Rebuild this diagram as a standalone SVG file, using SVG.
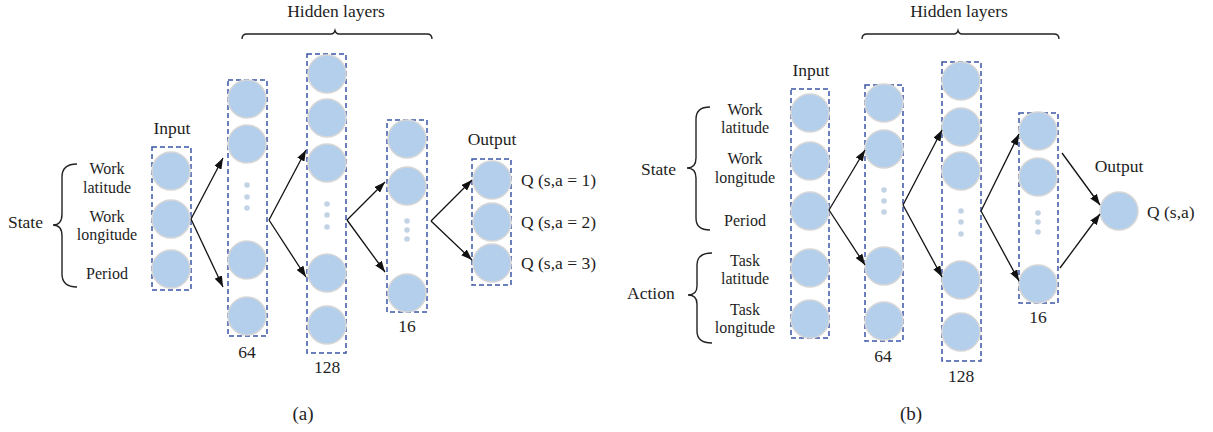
<svg xmlns="http://www.w3.org/2000/svg" width="1213" height="432" viewBox="0 0 1213 432">
  <style>
    .bg { fill: #ffffff; }
    .box { fill: none; stroke: #3a55a6; stroke-width: 1.5; stroke-dasharray: 5 3; }
    .neuron { fill: #b4cfec; stroke: #d6d6d6; stroke-width: 1.5; }
    .dot { fill: #c3d3e6; }
    .edge { fill: none; stroke: #111111; stroke-width: 1.3; marker-end: url(#arrow); }
    .brace { fill: none; stroke: #222222; stroke-width: 1.4; }
    text { font-family: "Liberation Serif", "Times New Roman", serif; fill: #1e1e1e; }
    .lbl { font-size: 16px; text-anchor: middle; }
    .big { font-size: 17.5px; }
    .cap { font-size: 19px; text-anchor: middle; }
    .mid { text-anchor: middle; }
  </style>
  <defs>
    <marker id="arrow" markerUnits="userSpaceOnUse" markerWidth="11" markerHeight="8" refX="11" refY="4" orient="auto">
      <path d="M0,0 L11,4 L0,8 z" fill="#111111"/>
    </marker>
  </defs>
  <rect class="bg" x="0" y="0" width="1213" height="432"/>

  <!-- ===== Panel (a) ===== -->
  <g id="a-hidden-brace">
    <path class="brace" d="M242,39 Q242,34 247,34 L331,34 Q334,34 335,30.5 Q336,34 339,34 L427,34 Q432,34 432,39"/>
    <text class="big mid" x="336" y="17">Hidden layers</text>
  </g>
  <g id="a-state">
    <path class="brace" d="M77,164 Q62,164 62,177 L62,214 Q62,225 53,225 Q62,225 62,236 L62,274 Q62,287 77,287"/>
    <text class="big" x="8" y="228">State</text>
    <text class="lbl" x="107" y="174">Work</text>
    <text class="lbl" x="107" y="193">latitude</text>
    <text class="lbl" x="107" y="222">Work</text>
    <text class="lbl" x="107" y="240">longitude</text>
    <text class="lbl" x="107" y="279">Period</text>
  </g>
  <g id="a-input">
    <text class="big mid" x="172" y="134">Input</text>
    <rect class="box" x="152" y="147" width="39" height="143"/>
    <circle class="neuron" cx="171" cy="171" r="19"/>
    <circle class="neuron" cx="171" cy="219" r="19"/>
    <circle class="neuron" cx="171" cy="269" r="19"/>
  </g>
  <g id="a-hidden-64">
    <rect class="box" x="228" y="80" width="39" height="256"/>
    <circle class="neuron" cx="247" cy="99" r="19"/>
    <circle class="neuron" cx="247" cy="144" r="19"/>
    <circle class="dot" cx="247" cy="185" r="2.8"/>
    <circle class="dot" cx="247" cy="197" r="2.8"/>
    <circle class="dot" cx="247" cy="208" r="2.8"/>
    <circle class="neuron" cx="247" cy="260" r="19"/>
    <circle class="neuron" cx="247" cy="316" r="19"/>
    <text class="big mid" x="247" y="358">64</text>
  </g>
  <g id="a-hidden-128">
    <rect class="box" x="307" y="54" width="39" height="299"/>
    <circle class="neuron" cx="327" cy="74" r="19"/>
    <circle class="neuron" cx="327" cy="118" r="19"/>
    <circle class="neuron" cx="327" cy="163" r="19"/>
    <circle class="dot" cx="327" cy="204" r="2.8"/>
    <circle class="dot" cx="327" cy="215" r="2.8"/>
    <circle class="dot" cx="327" cy="227" r="2.8"/>
    <circle class="neuron" cx="327" cy="273" r="19"/>
    <circle class="neuron" cx="327" cy="325" r="19"/>
    <text class="big mid" x="327" y="373">128</text>
  </g>
  <g id="a-hidden-16">
    <rect class="box" x="387" y="120" width="40" height="192"/>
    <circle class="neuron" cx="407" cy="139" r="19"/>
    <circle class="neuron" cx="407" cy="186" r="19"/>
    <circle class="dot" cx="407" cy="221" r="2.8"/>
    <circle class="dot" cx="407" cy="230" r="2.8"/>
    <circle class="dot" cx="407" cy="239" r="2.8"/>
    <circle class="neuron" cx="407" cy="293" r="19"/>
    <text class="big mid" x="407" y="332">16</text>
  </g>
  <g id="a-output">
    <text class="big mid" x="492" y="145">Output</text>
    <rect class="box" x="472" y="159" width="39" height="126"/>
    <circle class="neuron" cx="492" cy="180" r="19"/>
    <circle class="neuron" cx="492" cy="222" r="19"/>
    <circle class="neuron" cx="492" cy="263" r="19"/>
    <text class="big" x="521" y="186">Q (s,a = 1)</text>
    <text class="big" x="521" y="228">Q (s,a = 2)</text>
    <text class="big" x="521" y="269">Q (s,a = 3)</text>
  </g>
  <g id="a-connectors">
    <path class="edge" d="M191,219 L223,158"/>
    <path class="edge" d="M191,219 L223,287"/>
    <path class="edge" d="M269,220 L306,150"/>
    <path class="edge" d="M269,220 L306,277"/>
    <path class="edge" d="M347,220 L385,182"/>
    <path class="edge" d="M347,220 L385,272"/>
    <path class="edge" d="M431,221 L472,180"/>
    <path class="edge" d="M431,221 L472,260"/>
  </g>
  <text class="cap" x="303" y="420">(a)</text>

  <!-- ===== Panel (b) ===== -->
  <g id="b-hidden-brace">
    <path class="brace" d="M862,39 Q862,34 867,34 L954,34 Q957,34 958,30.5 Q959,34 962,34 L1054,34 Q1059,34 1059,39"/>
    <text class="big mid" x="959" y="17">Hidden layers</text>
  </g>
  <g id="b-state">
    <path class="brace" d="M710,107 Q696,107 696,119 L696,158 Q696,168 687,168 Q696,168 696,178 L696,218 Q696,230 710,230"/>
    <text class="big" x="641" y="175">State</text>
    <text class="lbl" x="745" y="115">Work</text>
    <text class="lbl" x="745" y="133">latitude</text>
    <text class="lbl" x="745" y="164">Work</text>
    <text class="lbl" x="745" y="183">longitude</text>
    <text class="lbl" x="745" y="226">Period</text>
  </g>
  <g id="b-action">
    <path class="brace" d="M712,253 Q697,253 697,265 L697,286 Q697,295 688,295 Q697,295 697,304 L697,331 Q697,343 712,343"/>
    <text class="big" x="627" y="299">Action</text>
    <text class="lbl" x="745" y="266">Task</text>
    <text class="lbl" x="745" y="284">latitude</text>
    <text class="lbl" x="745" y="315">Task</text>
    <text class="lbl" x="745" y="333">longitude</text>
  </g>
  <g id="b-input">
    <text class="big mid" x="811" y="76">Input</text>
    <rect class="box" x="791" y="89" width="38" height="249"/>
    <circle class="neuron" cx="810" cy="113" r="19"/>
    <circle class="neuron" cx="810" cy="161" r="19"/>
    <circle class="neuron" cx="810" cy="211" r="19"/>
    <circle class="neuron" cx="810" cy="268" r="19"/>
    <circle class="neuron" cx="810" cy="319" r="19"/>
  </g>
  <g id="b-hidden-64">
    <rect class="box" x="865" y="85" width="38" height="256"/>
    <circle class="neuron" cx="884" cy="103" r="19"/>
    <circle class="neuron" cx="884" cy="149" r="19"/>
    <circle class="dot" cx="884" cy="190" r="2.8"/>
    <circle class="dot" cx="884" cy="201" r="2.8"/>
    <circle class="dot" cx="884" cy="212" r="2.8"/>
    <circle class="neuron" cx="884" cy="266" r="19"/>
    <circle class="neuron" cx="884" cy="321" r="19"/>
    <text class="big mid" x="883" y="362">64</text>
  </g>
  <g id="b-hidden-128">
    <rect class="box" x="942" y="62" width="39" height="299"/>
    <circle class="neuron" cx="961" cy="81" r="19"/>
    <circle class="neuron" cx="961" cy="127" r="19"/>
    <circle class="neuron" cx="961" cy="171" r="19"/>
    <circle class="dot" cx="961" cy="211" r="2.8"/>
    <circle class="dot" cx="961" cy="222" r="2.8"/>
    <circle class="dot" cx="961" cy="234" r="2.8"/>
    <circle class="neuron" cx="961" cy="280" r="19"/>
    <circle class="neuron" cx="961" cy="332" r="19"/>
    <text class="big mid" x="961" y="382">128</text>
  </g>
  <g id="b-hidden-16">
    <rect class="box" x="1019" y="113" width="39" height="190"/>
    <circle class="neuron" cx="1038" cy="131" r="19"/>
    <circle class="neuron" cx="1038" cy="177" r="19"/>
    <circle class="dot" cx="1038" cy="213" r="2.8"/>
    <circle class="dot" cx="1038" cy="222" r="2.8"/>
    <circle class="dot" cx="1038" cy="232" r="2.8"/>
    <circle class="neuron" cx="1038" cy="284" r="19"/>
    <text class="big mid" x="1038" y="323">16</text>
  </g>
  <g id="b-output">
    <text class="big mid" x="1119" y="172">Output</text>
    <circle class="neuron" cx="1119" cy="211" r="19"/>
    <text class="big" x="1147" y="218">Q (s,a)</text>
  </g>
  <g id="b-connectors">
    <path class="edge" d="M829,210 L865,150"/>
    <path class="edge" d="M829,210 L865,265"/>
    <path class="edge" d="M903,205 L942,130"/>
    <path class="edge" d="M903,205 L942,277"/>
    <path class="edge" d="M981,211 L1019,134"/>
    <path class="edge" d="M981,211 L1019,281"/>
    <path class="edge" d="M1062,153 L1100,205"/>
    <path class="edge" d="M1060,268 L1100,214"/>
  </g>
  <text class="cap" x="911" y="420">(b)</text>
</svg>
